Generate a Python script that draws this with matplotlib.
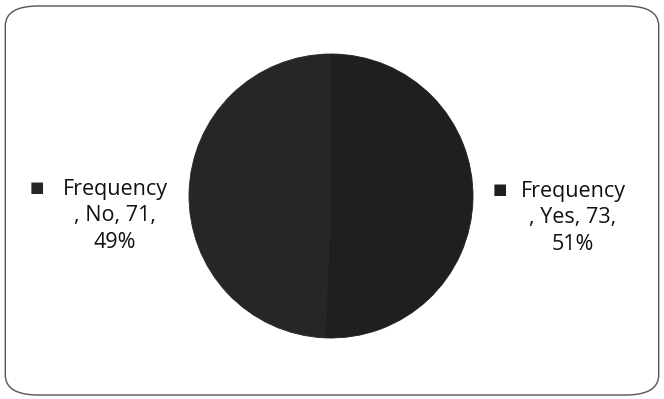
import matplotlib.pyplot as plt
from matplotlib.patches import FancyBboxPatch

labels = ['Yes', 'No']
counts = [73, 71]
percents = [51, 49]
colors = ['#1f1f1f', '#262626']

plt.rcParams['font.family'] = ['Open Sans', 'DejaVu Sans']

fig = plt.figure(figsize=(6.64, 3.99), dpi=100)

# chart frame with rounded corners
frame = FancyBboxPatch((0.008, 0.01), 0.984, 0.975,
                       boxstyle='round,pad=0,rounding_size=0.05',
                       transform=fig.transFigure, fill=False,
                       edgecolor='#555555', linewidth=1.0)
fig.patches.append(frame)

# pie area: centre (331,196) px, radius 142 px
W, H = 664, 399
cx, cy, r = 331, 196, 142
ax = fig.add_axes([(cx - r) / W, 1 - (cy + r) / H, 2 * r / W, 2 * r / H])
wedges, _ = ax.pie(counts, colors=colors, startangle=90, counterclock=False)
for w in wedges:
    w.set_edgecolor(w.get_facecolor())
    w.set_linewidth(0.6)
ax.set_xlim(-1, 1)
ax.set_ylim(-1, 1)
ax.set_aspect('equal')
ax.axis('off')

# data labels beside the pie
text_kw = dict(fontsize=15.5, color='#111111', ha='center', va='center',
               linespacing=1.35)
label_pos = {'Yes': (573, 218, 500), 'No': (115, 216, 37)}
for lab, n, p, c in zip(labels, counts, percents, colors):
    tx, ty, mx = label_pos[lab]
    fig.text(tx / W, 1 - ty / H, f'Frequency\n, {lab}, {n},\n{p}%', **text_kw)
    fig.text(mx / W, 1 - (ty - 28) / H, '\u25a0', fontsize=11, color=c,
             ha='center', va='center', family='DejaVu Sans')

fig.savefig('out.png', dpi=100)
